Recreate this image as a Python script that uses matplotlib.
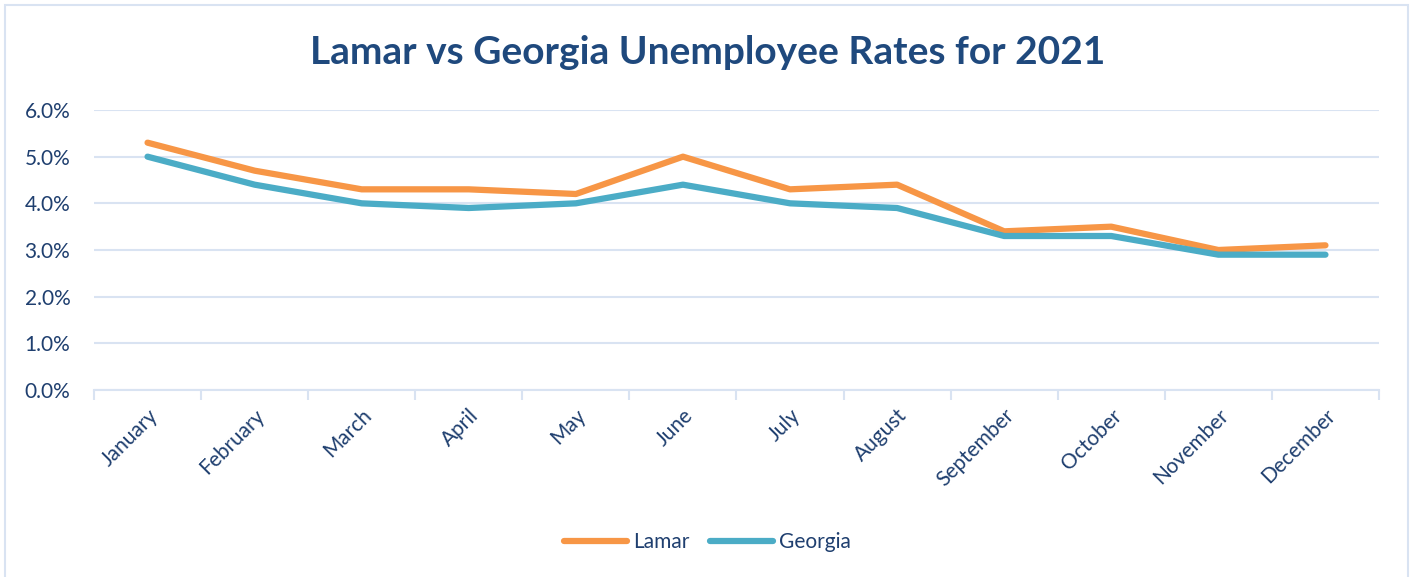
import matplotlib
matplotlib.use("Agg")
import matplotlib.pyplot as plt
from matplotlib.patches import Rectangle
from matplotlib.ticker import FuncFormatter, FixedLocator

months = ["January", "February", "March", "April", "May", "June", "July",
          "August", "September", "October", "November", "December"]
lamar = [5.3, 4.7, 4.3, 4.3, 4.2, 5.0, 4.3, 4.4, 3.4, 3.5, 3.0, 3.1]
georgia = [5.0, 4.4, 4.0, 3.9, 4.0, 4.4, 4.0, 3.9, 3.3, 3.3, 2.9, 2.9]
yticks = [0, 1, 2, 3, 4, 5, 6]

W, H = 1415, 577
fig = plt.figure(figsize=(W / 100, H / 100), dpi=100)
plt.rcParams['font.family'] = ['Lato', 'DejaVu Sans']
text_col = '#1F3F6F'
grid_col = '#D9E3F2'

# outer frame
fig.patches.append(Rectangle((5 / W, -0.01), (1408 - 5) / W, (H - 5) / H + 0.01,
                             transform=fig.transFigure, fill=False,
                             edgecolor=grid_col, linewidth=1.5))

ax = fig.add_axes([94 / W, 1 - 390 / H, (1379 - 94) / W, (390 - 110) / H])
x = list(range(len(months)))
ax.plot(x, lamar, color='#F79646', linewidth=4.5, solid_capstyle='round',
        solid_joinstyle='round', label='Lamar', zorder=3)
ax.plot(x, georgia, color='#4BACC6', linewidth=4.5, solid_capstyle='round',
        solid_joinstyle='round', label='Georgia', zorder=3)

ax.set_xlim(-0.5, len(months) - 0.5)
ax.set_ylim(0, 6)
ax.set_yticks(yticks)
ax.yaxis.set_major_formatter(FuncFormatter(lambda v, p: f"{v:.1f}%"))
ax.grid(axis='y', color=grid_col, linewidth=1.5)
ax.set_axisbelow(True)
for s in ['top', 'right', 'left']:
    ax.spines[s].set_visible(False)
ax.spines['bottom'].set_color(grid_col)
ax.spines['bottom'].set_linewidth(1.5)
ax.tick_params(axis='y', length=0, labelsize=15, labelcolor=text_col, pad=17)

ax.set_xticks(x)
ax.set_xticklabels(months, rotation=45, ha='right', rotation_mode='anchor',
                   fontsize=15, color=text_col)
ax.tick_params(axis='x', which='major', length=0, pad=11)
ax.xaxis.set_minor_locator(FixedLocator([i - 0.5 for i in range(len(months) + 1)]))
ax.tick_params(axis='x', which='minor', length=7, width=1.5, color=grid_col)

fig.text(0.5, 1 - 52 / H, "Lamar vs Georgia Unemployee Rates for 2021",
         ha='center', va='center', fontsize=28, fontweight='bold', color='#1F497D')

leg = fig.legend(loc='center', bbox_to_anchor=(0.5, 1 - 542 / H), ncol=2,
                 frameon=False, fontsize=15, handlelength=3.0,
                 columnspacing=1.0, handletextpad=0.3)
for t in leg.get_texts():
    t.set_color(text_col)

fig.savefig("out.png", dpi=100)
